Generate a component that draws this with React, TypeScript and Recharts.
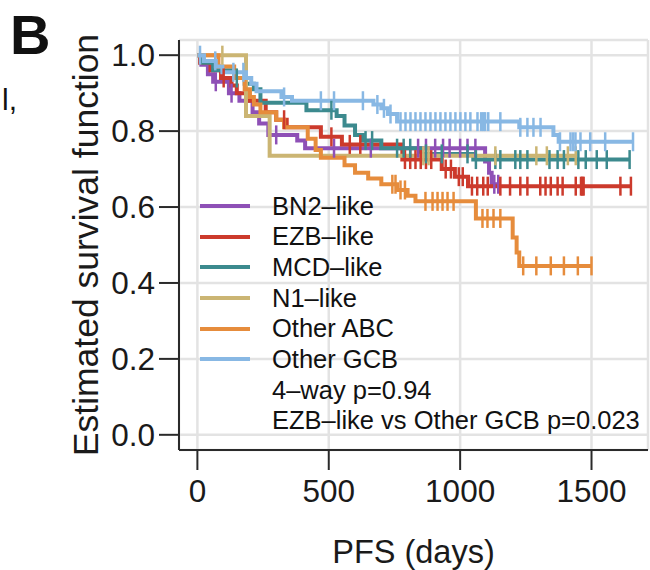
import { CartesianGrid, Legend, Line, LineChart, XAxis, YAxis } from "recharts";

const subtypes = ["BN2\u2013like", "EZB\u2013like", "MCD\u2013like", "N1\u2013like", "Other ABC", "Other GCB"];
const subtypeColors = ["#8e50b6", "#cc3a2c", "#3c8a8e", "#cbb573", "#e68c3c", "#88b8e4"];
const pValueNotes = ["4\u2013way p=0.94", "EZB\u2013like vs Other GCB p=0.023"];

const xTicks = [0, 500, 1000, 1500];
const yTicks = [0, 0.2, 0.4, 0.6, 0.8, 1.0];

// [day, survival after the event]
const bn2Steps: [number, number][] = [
  [15, 0.975], [40, 0.95], [60, 0.93], [120, 0.9], [160, 0.88], [210, 0.85], [235, 0.82],
  [270, 0.79], [380, 0.775], [410, 0.755], [1095, 0.72], [1110, 0.69], [1120, 0.66],
];
const bn2Censored = [70, 130, 300, 520, 660, 840, 870, 905, 935, 960, 1000, 1028, 1058, 1130, 1145];

const ezbSteps: [number, number][] = [
  [10, 0.98], [50, 0.96], [90, 0.94], [130, 0.92], [150, 0.9], [195, 0.88], [260, 0.85],
  [300, 0.83], [340, 0.81], [470, 0.785], [550, 0.765], [780, 0.725], [930, 0.7], [980, 0.68],
  [1030, 0.655],
];
const ezbCensored = [
  100, 330, 510, 580, 620, 790, 810, 830, 850, 870, 890, 945, 965, 995, 1010, 1045, 1065, 1088,
  1105, 1153, 1190, 1229, 1256, 1305, 1325, 1345, 1371, 1390, 1440, 1460, 1465, 1470, 1610, 1650,
];

const mcdSteps: [number, number][] = [
  [20, 0.98], [60, 0.96], [140, 0.94], [180, 0.925], [215, 0.91], [240, 0.875], [415, 0.855],
  [530, 0.84], [560, 0.815], [600, 0.79], [630, 0.775], [700, 0.755], [850, 0.74], [1050, 0.725],
];
const mcdCensored = [
  150, 510, 640, 665, 760, 785, 810, 870, 930, 1028, 1060, 1134, 1153, 1210, 1229, 1256, 1340,
  1371, 1395, 1450, 1478, 1520, 1558, 1645,
];

const n1Steps: [number, number][] = [[185, 0.84], [275, 0.735]];
const n1Censored = [95, 860, 880, 1134, 1290, 1330, 1410, 1440];

const abcSteps: [number, number][] = [
  [80, 0.97], [140, 0.94], [180, 0.91], [200, 0.89], [215, 0.87], [240, 0.85], [300, 0.83],
  [330, 0.81], [420, 0.78], [450, 0.75], [470, 0.73], [560, 0.71], [600, 0.69], [650, 0.675],
  [700, 0.66], [760, 0.645], [800, 0.63], [830, 0.615], [1060, 0.57], [1200, 0.52], [1215, 0.48],
  [1225, 0.445],
];
const abcCensored = [
  742, 754, 773, 790, 868, 895, 914, 933, 952, 975, 1085, 1104, 1127, 1153, 1240, 1290, 1345,
  1395, 1448, 1500,
];

const gcbSteps: [number, number][] = [
  [25, 0.985], [70, 0.97], [95, 0.955], [185, 0.94], [205, 0.925], [225, 0.905], [320, 0.89],
  [360, 0.88], [670, 0.87], [700, 0.86], [725, 0.845], [760, 0.825], [1225, 0.81], [1355, 0.79],
  [1375, 0.772],
];
const gcbCensored = [
  10, 68, 137, 175, 330, 470, 520, 630, 685, 710, 735, 773, 792, 811, 830, 849, 868, 887, 906,
  925, 944, 963, 982, 1001, 1020, 1039, 1066, 1080, 1088, 1095, 1107, 1153, 1229, 1256, 1279,
  1306, 1380, 1420, 1430, 1439, 1458, 1495, 1552, 1658,
];

const allSteps = [bn2Steps, ezbSteps, mcdSteps, n1Steps, abcSteps, gcbSteps];
const allCensored = [bn2Censored, ezbCensored, mcdCensored, n1Censored, abcCensored, gcbCensored];

type Row = { t: number; s: number; censored?: boolean };

function survivalAt(steps: [number, number][], t: number) {
  let s = 1;
  for (const [day, value] of steps) {
    if (day <= t) s = value;
  }
  return s;
}

function buildCurve(steps: [number, number][], censored: number[]): Row[] {
  const rows: Row[] = [{ t: 0, s: 1 }];
  for (const [t, s] of steps) rows.push({ t, s });
  for (const t of censored) rows.push({ t, s: survivalAt(steps, t), censored: true });
  rows.sort((a, b) => a.t - b.t || (a.censored ? 1 : 0) - (b.censored ? 1 : 0));
  return rows;
}

const FONT = "'Liberation Sans', Arial, Helvetica, sans-serif";

function censorMark(color: string) {
  return (props: any) => {
    const { cx, cy, payload, index } = props;
    if (!payload?.censored || cx == null || cy == null) return <g key={`n-${index}`} />;
    return (
      <line
        key={`c-${index}`}
        x1={cx}
        x2={cx}
        y1={cy - 9.5}
        y2={cy + 9.5}
        stroke={color}
        strokeWidth={2.5}
      />
    );
  };
}

function LegendBox() {
  const rowStyle = { height: 30.7, lineHeight: "30.7px", display: "flex", alignItems: "center" };
  return (
    <div style={{ fontFamily: FONT, fontSize: 25.5, color: "#111" }}>
      {subtypes.map((name, i) => (
        <div key={name} style={rowStyle}>
          <span
            style={{ display: "inline-block", width: 50, height: 4, background: subtypeColors[i], marginRight: 22 }}
          />
          <span>{name}</span>
        </div>
      ))}
      {pValueNotes.map((note) => (
        <div key={note} style={{ ...rowStyle, paddingLeft: 72 }}>
          {note}
        </div>
      ))}
    </div>
  );
}

export default function App() {
  const curves = allSteps.map((steps, i) => buildCurve(steps, allCensored[i]));
  const tickStyle = { fontFamily: FONT, fontSize: 31.5, fill: "#1a1a1a" };

  return (
    <div style={{ position: "absolute", left: 0, top: 0, width: 650, height: 570, background: "#fff" }}>
      <LineChart width={650} height={570} margin={{ top: 40, right: 2, bottom: 0, left: 0 }}>
        <CartesianGrid stroke="#e3e3e3" strokeWidth={2.5} />
        <XAxis
          dataKey="t"
          type="number"
          domain={[-70, 1715]}
          ticks={xTicks}
          allowDataOverflow
          height={120}
          tickSize={20}
          tickMargin={10}
          tick={tickStyle}
          axisLine={{ stroke: "#2a2a2a", strokeWidth: 2 }}
          tickLine={{ stroke: "#2a2a2a", strokeWidth: 2 }}
        />
        <XAxis
          xAxisId="top"
          orientation="top"
          type="number"
          domain={[-70, 1715]}
          height={0}
          tick={false}
          tickLine={false}
          axisLine={{ stroke: "#2a2a2a", strokeWidth: 2 }}
        />
        <YAxis
          type="number"
          domain={[-0.04, 1.04]}
          ticks={yTicks}
          allowDataOverflow
          width={179}
          tickSize={20}
          tickMargin={4}
          tick={tickStyle}
          tickFormatter={(v: number) => v.toFixed(1)}
          axisLine={{ stroke: "#2a2a2a", strokeWidth: 2 }}
          tickLine={{ stroke: "#2a2a2a", strokeWidth: 2 }}
        />
        <YAxis
          yAxisId="right"
          orientation="right"
          type="number"
          domain={[-0.04, 1.04]}
          width={0}
          tick={false}
          tickLine={false}
          axisLine={{ stroke: "#2a2a2a", strokeWidth: 2 }}
        />
        {curves.map((data, i) => (
          <Line
            key={subtypes[i]}
            data={data}
            dataKey="s"
            name={subtypes[i]}
            type="stepAfter"
            stroke={subtypeColors[i]}
            strokeWidth={4}
            dot={censorMark(subtypeColors[i])}
            activeDot={false}
            isAnimationActive={false}
          />
        ))}
        <Legend
          layout="vertical"
          align="center"
          verticalAlign="middle"
          content={() => <LegendBox />}
          wrapperStyle={{ position: "absolute", left: 200, top: 190.6, width: 440, height: 246 }}
        />
        <text x={10} y={54} fontFamily={FONT} fontWeight="bold" fontSize={56} fill="#111">
          B
        </text>
        <text x={2} y={110} fontFamily={FONT} fontSize={30} fill="#111">
          l,
        </text>
        <text
          x={413.5}
          y={563}
          textAnchor="middle"
          fontFamily={FONT}
          fontSize={32.5}
          fill="#1a1a1a"
        >
          PFS (days)
        </text>
        <text
          x={97.5}
          y={245}
          textAnchor="middle"
          transform="rotate(-90 97.5 245)"
          fontFamily={FONT}
          fontSize={35.5}
          fill="#1a1a1a"
        >
          Estimated survival function
        </text>
      </LineChart>
    </div>
  );
}
